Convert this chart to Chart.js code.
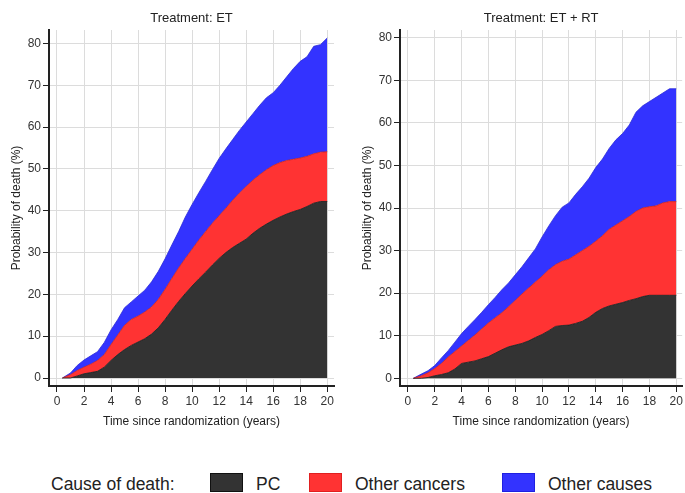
<!DOCTYPE html>
<html>
<head>
<meta charset="utf-8">
<script src="https://cdn.jsdelivr.net/npm/chart.js@4/dist/chart.umd.min.js"></script>
<style>
  html, body { margin: 0; padding: 0; background: #fff; }
  body { width: 685px; height: 493px; position: relative; overflow: hidden; font-family: "Liberation Sans", Arial, sans-serif; }
  .panel { position: absolute; top: 0; height: 440px; }
  #legend { position: absolute; left: 0; top: 440px; width: 685px; height: 53px; font-family: "Liberation Sans", Arial, sans-serif; font-size: 17.5px; color: #222; }
  #legend span { position: absolute; top: 34px; line-height: 20px; white-space: nowrap; }
  #legend i { position: absolute; top: 33px; width: 31px; height: 17px; border: 1px solid; }
</style>
</head>
<body>
<div class="panel" style="left:0;width:342px"><canvas id="cEt" width="342" height="440"></canvas></div>
<div class="panel" style="left:345px;width:340px"><canvas id="cEtRt" width="340" height="440"></canvas></div>
<div id="legend">
  <span style="left:51px">Cause of death:</span>
  <i style="left:210px;background:#333333;border-color:#111"></i>
  <span style="left:256px">PC</span>
  <i style="left:309px;background:#ff3333;border-color:#e02020"></i>
  <span style="left:355px">Other cancers</span>
  <i style="left:502px;background:#3333ff;border-color:#2020e0"></i>
  <span style="left:548px">Other causes</span>
</div>
<script>
// Time since randomization (years)
const years = [0.4, 1, 1.5, 2, 2.5, 3, 3.5, 4, 4.5, 5, 5.5, 6, 6.5, 7, 7.5, 8, 8.5, 9, 9.5, 10,
  10.5, 11, 11.5, 12, 12.5, 13, 13.5, 14, 14.5, 15, 15.5, 16, 16.5, 17, 17.5, 18, 18.5, 19, 19.5, 20];

// Treatment: ET — cumulative probability of death (%), stacked boundaries
const etPC = [0, 0, 0.5, 1.0, 1.3, 1.6, 2.6, 4.2, 5.6, 6.8, 7.8, 8.6, 9.4, 10.5, 12.0, 14.0, 16.2, 18.3, 20.2, 22.0,
  23.7, 25.3, 27.0, 28.6, 30.0, 31.2, 32.2, 33.2, 34.6, 35.8, 36.8, 37.7, 38.5, 39.2, 39.8, 40.3, 41.0, 41.8, 42.2, 42.2];
const etPCplusOtherCancers = [0, 0.8, 1.8, 2.6, 3.3, 4.2, 5.6, 8.0, 10.3, 12.6, 14.0, 14.8, 15.8, 17.0, 18.8, 21.2, 23.8, 26.3, 28.6, 30.8,
  33.0, 35.0, 37.0, 38.8, 40.6, 42.5, 44.2, 45.8, 47.3, 48.6, 49.8, 50.8, 51.5, 52.0, 52.3, 52.6, 53.0, 53.6, 54.0, 54.1];
const etAllCauses = [0, 1.2, 3.0, 4.3, 5.3, 6.3, 8.5, 11.5, 14.0, 16.8, 18.2, 19.6, 21.0, 23.0, 25.5, 28.5, 31.8, 35.0, 38.5, 41.5,
  44.3, 47.0, 49.8, 52.5, 54.8, 57.0, 59.2, 61.2, 63.2, 65.2, 67.0, 68.2, 70.0, 72.0, 74.0, 75.7, 76.8, 79.3, 79.7, 81.3];

// Treatment: ET + RT
const etrtPC = [0, 0, 0.2, 0.6, 0.9, 1.3, 2.2, 3.5, 3.8, 4.1, 4.6, 5.1, 5.9, 6.7, 7.4, 7.8, 8.2, 8.8, 9.6, 10.3,
  11.2, 12.2, 12.4, 12.5, 12.9, 13.4, 14.3, 15.5, 16.4, 17.0, 17.4, 17.8, 18.3, 18.7, 19.2, 19.5, 19.5, 19.5, 19.5, 19.5];
const etrtPCplusOtherCancers = [0, 0.6, 1.3, 2.3, 3.5, 5.0, 6.3, 7.6, 8.9, 10.2, 11.6, 13.0, 14.2, 15.4, 16.8, 18.3, 19.8, 21.2, 22.6, 24.0,
  25.5, 26.7, 27.5, 28.0, 29.0, 30.0, 31.0, 32.2, 33.5, 35.0, 36.0, 37.0, 38.0, 39.2, 40.0, 40.3, 40.5, 41.2, 41.5, 41.5];
const etrtAllCauses = [0, 1.0, 1.8, 3.0, 4.8, 6.5, 8.5, 10.5, 12.2, 13.8, 15.5, 17.3, 19.0, 20.8, 22.4, 24.3, 26.2, 28.3, 30.4, 33.2,
  35.8, 38.2, 40.2, 41.2, 43.2, 45.0, 47.0, 49.5, 51.5, 54.0, 56.0, 57.5, 59.5, 62.5, 64.0, 65.0, 66.0, 67.0, 68.0, 68.0];

const causes = ["PC", "Other cancers", "Other causes"];
const xTicks = [0, 2, 4, 6, 8, 10, 12, 14, 16, 18, 20];
const yTicks = [0, 10, 20, 30, 40, 50, 60, 70, 80];

const colors = { fill: ["#333333", "#ff3333", "#3333ff"], line: ["#1a1a1a", "#c81e1e", "#2a2ad8"] };
const tickFont = { family: "'Liberation Sans', Arial, sans-serif", size: 12 };

function pts(arr) { return years.map((t, i) => ({ x: t, y: arr[i] })); }

function makeChart(id, title, series, cfg) {
  const datasets = series.map((s, i) => ({
    label: causes[i],
    data: pts(s),
    backgroundColor: colors.fill[i],
    borderColor: colors.line[i],
    borderWidth: 0.8,
    pointRadius: 0,
    tension: 0,
    fill: i === 0 ? "origin" : "-1"
  }));
  return new Chart(document.getElementById(id), {
    type: "line",
    data: { datasets },
    options: {
      responsive: false,
      animation: false,
      events: [],
      layout: { padding: { left: 0, right: cfg.padRight, top: 0, bottom: 0 } },
      plugins: { legend: { display: false }, tooltip: { enabled: false } },
      scales: {
        x: {
          type: "linear", position: "bottom", min: cfg.xMin, max: cfg.xMax,
          afterBuildTicks: (s) => { s.ticks = xTicks.map(v => ({ value: v })); },
          afterFit: (s) => { s.height = 54; },
          ticks: { font: tickFont, color: "#333", padding: 2, maxRotation: 0, autoSkip: false },
          grid: { color: "#dcdcdc", lineWidth: 1, tickColor: "#222", tickLength: 6 },
          border: { display: true, color: "#222", width: 2 },
          title: { display: true, text: "Time since randomization (years)", font: tickFont, color: "#222", padding: { top: 4, bottom: 11 } }
        },
        xTop: {
          type: "linear", position: "top", min: cfg.xMin, max: cfg.xMax,
          afterFit: (s) => { s.height = 30; },
          ticks: { display: false },
          grid: { display: false, drawTicks: false },
          border: { display: false },
          title: { display: true, text: title, font: { family: "'Liberation Sans', Arial, sans-serif", size: 13 }, color: "#222", padding: { top: 11, bottom: 0 } }
        },
        y: {
          type: "linear", position: "left", min: cfg.yMin, max: cfg.yMax,
          afterBuildTicks: (s) => { s.ticks = yTicks.map(v => ({ value: v })); },
          afterFit: (s) => { s.width = cfg.yWidth; },
          ticks: { font: tickFont, color: "#333", padding: 2 },
          grid: { color: "#dcdcdc", lineWidth: 1, tickColor: "#222", tickLength: 6 },
          border: { display: true, color: "#222", width: 2 },
          title: { display: true, text: "Probability of death (%)", font: tickFont, color: "#222", padding: { top: cfg.yTitlePad, bottom: 0 } }
        }
      }
    }
  });
}

makeChart("cEt", "Treatment: ET", [etPC, etPCplusOtherCancers, etAllCauses],
  { xMin: -0.59, xMax: 20.5, yMin: -1.91, yMax: 83.2, yWidth: 49, yTitlePad: 9, padRight: 8 });
makeChart("cEtRt", "Treatment: ET + RT", [etrtPC, etrtPCplusOtherCancers, etrtAllCauses],
  { xMin: -0.59, xMax: 20.44, yMin: -1.8, yMax: 81.8, yWidth: 55, yTitlePad: 15, padRight: 0 });
</script>
</body>
</html>
